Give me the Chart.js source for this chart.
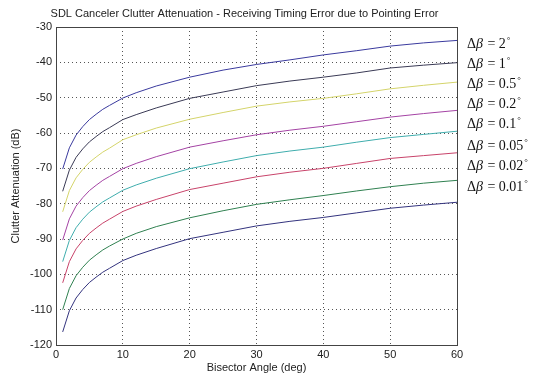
<!DOCTYPE html>
<html>
<head>
<meta charset="utf-8">
<script src="https://cdn.jsdelivr.net/npm/chart.js@4/dist/chart.umd.min.js"></script>
<style>
  html, body { margin: 0; padding: 0; background: #fff; }
  #wrap { width: 536px; height: 378px; position: relative; }
</style>
</head>
<body>
<div id="wrap"><canvas id="chart" width="536" height="378"></canvas></div>
<script>
// Data
const angles = [1, 2, 3, 4, 5, 6, 7, 8, 10, 12, 15, 20, 25, 30, 35, 40, 45, 50, 55, 60];

const att2 = [-70.2, -64.2, -60.6, -58.2, -56.2, -54.7, -53.3, -52.2, -50.1, -48.6, -46.7, -44.2, -42.2, -40.6, -39.3, -37.9, -36.7, -35.4, -34.5, -33.8];
const att1 = [-76.5, -70.5, -66.9, -64.5, -62.5, -61.0, -59.6, -58.5, -56.2, -54.8, -52.9, -50.2, -48.4, -46.6, -45.3, -44.2, -43.0, -41.6, -40.8, -40.1];
const att05 = [-82.3, -76.3, -72.7, -70.3, -68.3, -66.8, -65.4, -64.3, -61.9, -60.5, -58.6, -56.1, -54.2, -52.4, -51.2, -50.2, -48.9, -47.5, -46.5, -45.6];
const att02 = [-90.3, -84.3, -80.7, -78.3, -76.3, -74.8, -73.4, -72.3, -70.1, -68.6, -66.7, -64.0, -62.2, -60.5, -59.2, -58.1, -56.8, -55.5, -54.5, -53.6];
const att01 = [-96.4, -90.4, -86.8, -84.4, -82.4, -80.9, -79.5, -78.4, -76.2, -74.7, -72.8, -70.1, -68.2, -66.4, -65.1, -64.0, -62.6, -61.3, -60.4, -59.5];
const att005 = [-102.4, -96.4, -92.8, -90.4, -88.4, -86.9, -85.5, -84.4, -82.2, -80.7, -78.8, -76.0, -74.2, -72.4, -71.1, -70.0, -68.6, -67.2, -66.4, -65.6];
const att002 = [-110.0, -104.0, -100.4, -98.0, -96.0, -94.5, -93.1, -92.0, -90.0, -88.4, -86.5, -84.0, -82.0, -80.2, -78.9, -77.7, -76.4, -75.2, -74.2, -73.4];
const att001 = [-116.3, -110.3, -106.7, -104.3, -102.3, -100.8, -99.4, -98.3, -96.1, -94.6, -92.7, -89.9, -88.1, -86.3, -85.0, -83.9, -82.6, -81.3, -80.4, -79.6];

const seriesValues = [att2, att1, att05, att02, att01, att005, att002, att001];
const betaValues = ['2', '1', '0.5', '0.2', '0.1', '0.05', '0.02', '0.01'];
const lineColors = ['#3a3a9e', '#3a3a55', '#d4d46a', '#a443a4', '#3fadad', '#c8436a', '#2f8050', '#33337e'];

const xTicks = [0, 10, 20, 30, 40, 50, 60];

const datasets = seriesValues.map((vals, i) => ({
    label: 'Δβ = ' + betaValues[i] + '°',
    data: angles.map((a, k) => ({ x: a, y: vals[k] })),
    borderColor: lineColors[i],
    borderWidth: 1,
    pointRadius: 0,
    fill: false,
    tension: 0
}));

const serif = '"Liberation Serif", "DejaVu Serif", serif';

// Draws title, frame and the right-hand labels
const decorPlugin = {
    id: 'decor',
    afterDraw(chart) {
        const { ctx, chartArea } = chart;
        ctx.save();
        // frame
        ctx.strokeStyle = '#444';
        ctx.lineWidth = 1;
        ctx.strokeRect(Math.round(chartArea.left) + 0.5, Math.round(chartArea.top) + 0.5,
            Math.round(chartArea.right - chartArea.left), Math.round(chartArea.bottom - chartArea.top));
        // title
        ctx.fillStyle = '#222';
        ctx.font = '11px Arial, "Liberation Sans", sans-serif';
        ctx.textAlign = 'center';
        ctx.textBaseline = 'middle';
        ctx.fillText('SDL Canceler Clutter Attenuation - Receiving Timing Error due to Pointing Error',
            (chartArea.left + chartArea.right) / 2 - 12, 14);
        // series labels
        const ys = [44, 64, 84, 104, 124, 146, 166, 187];
        ctx.textAlign = 'left';
        ctx.fillStyle = '#111';
        betaValues.forEach((val, i) => {
            let x = chartArea.right + 10;
            const y = ys[i];
            ctx.font = '14px ' + serif;
            ctx.fillText('Δ', x, y);
            x += ctx.measureText('Δ').width;
            ctx.font = 'italic 14px ' + serif;
            ctx.fillText('β', x, y);
            x += ctx.measureText('β').width + 1;
            ctx.font = '14px ' + serif;
            const txt = ' = ' + val;
            ctx.fillText(txt, x, y);
            x += ctx.measureText(txt).width + 1;
            ctx.font = '9px ' + serif;
            ctx.fillText('°', x, y - 3);
        });
        ctx.restore();
    }
};

const ctx = document.getElementById('chart').getContext('2d');
const chart = new Chart(ctx, {
    type: 'line',
    data: { datasets: datasets },
    options: {
        responsive: false,
        animation: false,
        layout: {
            padding: { left: 0, right: 79, top: 27, bottom: 0 }
        },
        plugins: {
            legend: { display: false },
            tooltip: { enabled: false }
        },
        scales: {
            x: {
                type: 'linear',
                min: 0,
                max: 60,
                afterBuildTicks(scale) {
                    scale.ticks = xTicks.map(v => ({ value: v }));
                },
                afterFit(scale) { scale.height = 33; },
                grid: { color: '#555', drawTicks: false, lineWidth: 1 },
                border: { display: false, dash: [1, 3] },
                ticks: {
                    color: '#222',
                    padding: 3,
                    font: { family: 'Arial, "Liberation Sans", sans-serif', size: 11 }
                },
                title: {
                    display: true,
                    text: 'Bisector Angle (deg)',
                    color: '#222',
                    padding: { top: 0, bottom: 3 },
                    font: { family: 'Arial, "Liberation Sans", sans-serif', size: 11 }
                }
            },
            y: {
                min: -120,
                max: -30,
                ticks: {
                    stepSize: 10,
                    color: '#222',
                    padding: 4,
                    font: { family: 'Arial, "Liberation Sans", sans-serif', size: 11 }
                },
                afterFit(scale) { scale.width = 56; },
                grid: { color: '#555', drawTicks: false, lineWidth: 1 },
                border: { display: false, dash: [1, 3] },
                title: {
                    display: true,
                    text: 'Clutter Attenuation (dB)',
                    color: '#222',
                    padding: { top: 9, bottom: 0 },
                    font: { family: 'Arial, "Liberation Sans", sans-serif', size: 11 }
                }
            }
        }
    },
    plugins: [decorPlugin]
});
</script>
</body>
</html>
